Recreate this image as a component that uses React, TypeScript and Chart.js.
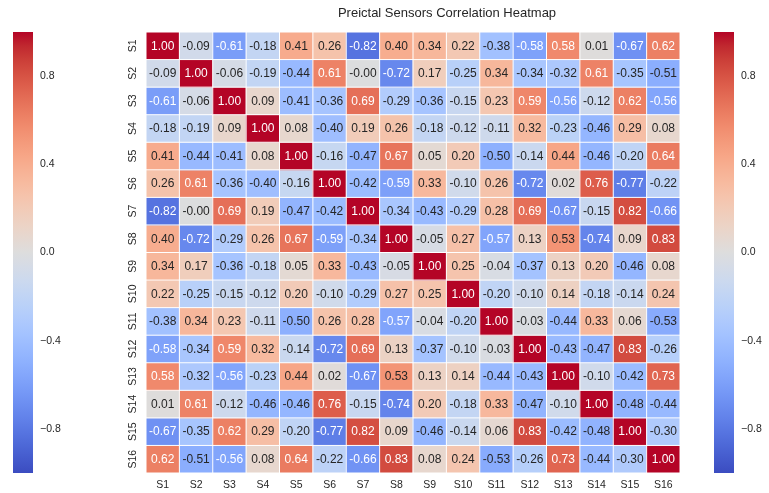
import React, { useEffect, useRef } from "react";
import { Chart, registerables } from "chart.js";

Chart.register(...registerables);

const TITLE = "Preictal Sensors Correlation Heatmap";
const SENSORS = ["S1", "S2", "S3", "S4", "S5", "S6", "S7", "S8", "S9", "S10", "S11", "S12", "S13", "S14", "S15", "S16"];
const COLORBAR_TICKS = [-0.8, -0.4, 0, 0.4, 0.8];

const CORR: number[][] = [
  [1.0, -0.09, -0.61, -0.18, 0.41, 0.26, -0.82, 0.4, 0.34, 0.22, -0.38, -0.58, 0.58, 0.01, -0.67, 0.62],
  [-0.09, 1.0, -0.06, -0.19, -0.44, 0.61, -0.004, -0.72, 0.17, -0.25, 0.34, -0.34, -0.32, 0.61, -0.35, -0.51],
  [-0.61, -0.06, 1.0, 0.09, -0.41, -0.36, 0.69, -0.29, -0.36, -0.15, 0.23, 0.59, -0.56, -0.12, 0.62, -0.56],
  [-0.18, -0.19, 0.09, 1.0, 0.08, -0.4, 0.19, 0.26, -0.18, -0.12, -0.11, 0.32, -0.23, -0.46, 0.29, 0.08],
  [0.41, -0.44, -0.41, 0.08, 1.0, -0.16, -0.47, 0.67, 0.05, 0.2, -0.5, -0.14, 0.44, -0.46, -0.2, 0.64],
  [0.26, 0.61, -0.36, -0.4, -0.16, 1.0, -0.42, -0.59, 0.33, -0.1, 0.26, -0.72, 0.02, 0.76, -0.77, -0.22],
  [-0.82, -0.004, 0.69, 0.19, -0.47, -0.42, 1.0, -0.34, -0.43, -0.29, 0.28, 0.69, -0.67, -0.15, 0.82, -0.66],
  [0.4, -0.72, -0.29, 0.26, 0.67, -0.59, -0.34, 1.0, -0.05, 0.27, -0.57, 0.13, 0.53, -0.74, 0.09, 0.83],
  [0.34, 0.17, -0.36, -0.18, 0.05, 0.33, -0.43, -0.05, 1.0, 0.25, -0.04, -0.37, 0.13, 0.2, -0.46, 0.08],
  [0.22, -0.25, -0.15, -0.12, 0.2, -0.1, -0.29, 0.27, 0.25, 1.0, -0.2, -0.1, 0.14, -0.18, -0.14, 0.24],
  [-0.38, 0.34, 0.23, -0.11, -0.5, 0.26, 0.28, -0.57, -0.04, -0.2, 1.0, -0.03, -0.44, 0.33, 0.06, -0.53],
  [-0.58, -0.34, 0.59, 0.32, -0.14, -0.72, 0.69, 0.13, -0.37, -0.1, -0.03, 1.0, -0.43, -0.47, 0.83, -0.26],
  [0.58, -0.32, -0.56, -0.23, 0.44, 0.02, -0.67, 0.53, 0.13, 0.14, -0.44, -0.43, 1.0, -0.1, -0.42, 0.73],
  [0.01, 0.61, -0.12, -0.46, -0.46, 0.76, -0.15, -0.74, 0.2, -0.18, 0.33, -0.47, -0.1, 1.0, -0.48, -0.44],
  [-0.67, -0.35, 0.62, 0.29, -0.2, -0.77, 0.82, 0.09, -0.46, -0.14, 0.06, 0.83, -0.42, -0.48, 1.0, -0.3],
  [0.62, -0.51, -0.56, 0.08, 0.64, -0.22, -0.66, 0.83, 0.08, 0.24, -0.53, -0.26, 0.73, -0.44, -0.3, 1.0],
];

// coolwarm colormap anchors (33 evenly spaced)
const COOLWARM: number[][] = [
  [59, 76, 192], [68, 90, 204], [77, 104, 215], [87, 117, 225], [98, 130, 234], [108, 142, 241],
  [119, 154, 247], [130, 165, 251], [141, 176, 254], [152, 185, 255], [163, 194, 255], [174, 201, 253],
  [184, 208, 249], [194, 213, 244], [204, 217, 238], [213, 219, 230], [221, 221, 221], [229, 216, 209],
  [236, 211, 197], [241, 204, 185], [245, 196, 173], [247, 187, 160], [247, 177, 148], [247, 166, 135],
  [244, 154, 123], [241, 141, 111], [236, 127, 99], [229, 112, 88], [222, 96, 77], [213, 80, 66],
  [203, 62, 56], [192, 40, 47], [180, 4, 38],
];

function cmapRGB(v: number): number[] {
  const t = Math.max(0, Math.min(1, (v + 1) / 2)) * (COOLWARM.length - 1);
  const i = Math.min(COOLWARM.length - 2, Math.floor(t));
  const f = t - i;
  const a = COOLWARM[i], b = COOLWARM[i + 1];
  return [0, 1, 2].map((k) => a[k] + (b[k] - a[k]) * f);
}
function rgbStr(c: number[]) {
  return `rgb(${Math.round(c[0])},${Math.round(c[1])},${Math.round(c[2])})`;
}
function lum(c: number[]) {
  const lin = c.map((x) => {
    const s = x / 255;
    return s <= 0.03928 ? s / 12.92 : Math.pow((s + 0.055) / 1.055, 2.4);
  });
  return 0.2126 * lin[0] + 0.7152 * lin[1] + 0.0722 * lin[2];
}

const FONT = "'Liberation Sans', Arial, sans-serif";
const TEXT = "#262626";

const heatPlugin = {
  id: "heatExtras",
  afterDatasetsDraw(chart: any) {
    const ctx = chart.ctx;
    const ys = chart.scales.y;
    const ca = chart.chartArea;
    // white grid lines
    ctx.save();
    ctx.strokeStyle = "#ffffff";
    ctx.lineWidth = 1;
    const meta0 = chart.getDatasetMeta(0);
    ctx.beginPath();
    meta0.data.forEach((el: any, i: number) => {
      const x0 = el.x - el.width / 2;
      ctx.moveTo(x0, ca.top);
      ctx.lineTo(x0, ca.bottom);
      if (i === meta0.data.length - 1) {
        ctx.moveTo(el.x + el.width / 2, ca.top);
        ctx.lineTo(el.x + el.width / 2, ca.bottom);
      }
    });
    for (let r = 0; r <= SENSORS.length; r++) {
      const y = ys.getPixelForValue(r);
      ctx.moveTo(ca.left, y);
      ctx.lineTo(ca.right, y);
    }
    ctx.stroke();
    // annotations
    ctx.font = `12px ${FONT}`;
    ctx.textAlign = "center";
    ctx.textBaseline = "middle";
    CORR.forEach((row, r) => {
      const meta = chart.getDatasetMeta(r);
      row.forEach((v, c) => {
        const el: any = meta.data[c];
        const cy = (el.y + el.base) / 2;
        ctx.fillStyle = lum(cmapRGB(v)) > 0.408 ? TEXT : "#ffffff";
        ctx.fillText(v.toFixed(2), el.x, cy + 0.5);
      });
    });
    ctx.restore();
  },
  afterDraw(chart: any) {
    const ctx = chart.ctx;
    const ys = chart.scales.y;
    const cb = chart.scales.cb;
    const ca = chart.chartArea;
    ctx.save();
    // title
    ctx.fillStyle = TEXT;
    ctx.font = `13px ${FONT}`;
    ctx.textAlign = "center";
    ctx.textBaseline = "middle";
    ctx.fillText(TITLE, 447, 13);
    // x labels
    ctx.font = `10.5px ${FONT}`;
    const meta0 = chart.getDatasetMeta(0);
    SENSORS.forEach((s, i) => {
      ctx.fillText(s, meta0.data[i].x, ca.bottom + 12.5);
    });
    // y labels rotated
    SENSORS.forEach((s, i) => {
      const y = ys.getPixelForValue(i + 0.5);
      ctx.save();
      ctx.translate(133, y);
      ctx.rotate(-Math.PI / 2);
      ctx.fillText(s, 0, 0);
      ctx.restore();
    });
    // colorbars
    const top = cb.getPixelForValue(1);
    const bot = cb.getPixelForValue(-1);
    const grad = ctx.createLinearGradient(0, top, 0, bot);
    const n = COOLWARM.length - 1;
    for (let i = 0; i <= n; i++) grad.addColorStop(i / n, rgbStr(COOLWARM[n - i]));
    const bars = [
      { x: 13, w: 20, labelX: 40 },
      { x: 714, w: 20, labelX: 741 },
    ];
    bars.forEach((b) => {
      ctx.fillStyle = grad;
      ctx.fillRect(b.x, top, b.w, bot - top);
      ctx.fillStyle = TEXT;
      ctx.textAlign = "left";
      ctx.textBaseline = "middle";
      COLORBAR_TICKS.forEach((t) => {
        const label = (t < 0 ? "\u2212" : "") + Math.abs(t).toFixed(1);
        ctx.fillText(label, b.labelX, cb.getPixelForValue(t));
      });
    });
    ctx.restore();
  },
};

export default function App() {
  const ref = useRef<HTMLCanvasElement | null>(null);
  useEffect(() => {
    document.body.style.margin = "0";
    if (!ref.current) return;
    const datasets = CORR.map((row, r) => ({
      label: SENSORS[r],
      data: row.map(() => 1),
      backgroundColor: row.map((v) => rgbStr(cmapRGB(v))),
      borderWidth: 0,
      barPercentage: 1,
      categoryPercentage: 1,
      stack: "s",
    }));
    const chart = new Chart(ref.current, {
      type: "bar",
      data: { labels: SENSORS, datasets },
      options: {
        animation: false,
        responsive: false,
        maintainAspectRatio: false,
        devicePixelRatio: 1,
        layout: { padding: { left: 146, right: 89, top: 32, bottom: 20 } },
        plugins: { legend: { display: false }, tooltip: { enabled: false }, title: { display: false } },
        scales: {
          x: { type: "category", stacked: true, display: false, grid: { display: false } },
          y: { type: "linear", stacked: true, min: 0, max: 16, reverse: true, display: false },
          cb: { type: "linear", axis: "y", min: -1, max: 1, display: false },
        },
      },
      plugins: [heatPlugin],
    } as any);
    return () => chart.destroy();
  }, []);
  return (
    <div style={{ position: "absolute", left: 0, top: 0, width: 769, height: 493, background: "#fff" }}>
      <canvas ref={ref} width={769} height={493} />
    </div>
  );
}
